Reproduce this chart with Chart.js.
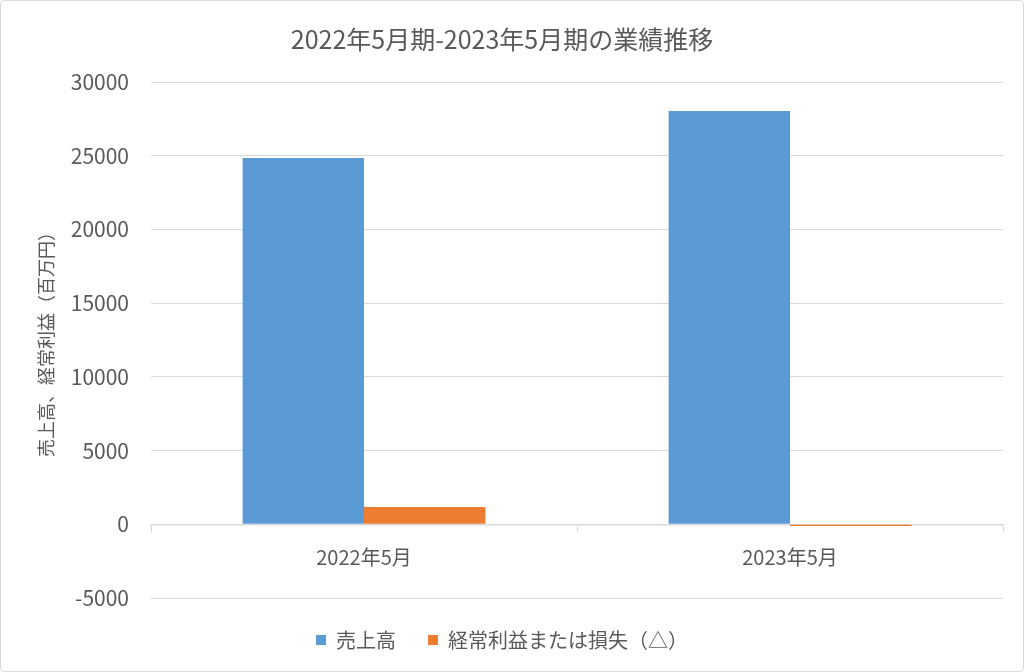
<!DOCTYPE html>
<html lang="ja">
<head>
    <meta charset="UTF-8">
    <title>業績推移</title>
    <script src="https://cdn.jsdelivr.net/npm/chart.js"></script>
    <style>
        html, body { margin: 0; padding: 0; background: #fff; }
        .frame {
            width: 1024px; height: 672px; box-sizing: border-box;
            border: 1px solid #d9d9d9; border-radius: 4px; overflow: hidden;
        }
        .frame canvas { display: block; }
    </style>
</head>
<body>
    <div class="frame">
        <canvas id="chart" width="1022" height="670"></canvas>
    </div>

    <script>
        const categories = ['2022年5月', '2023年5月'];
        const sales = [24850, 28030];
        const ordinaryProfit = [1180, -120];
        const yTicks = [-5000, 0, 5000, 10000, 15000, 20000, 25000, 30000];

        const textColor = '#595959';
        const gridColor = '#d9d9d9';
        const font = 'Noto Sans CJK JP';

        Chart.defaults.font.family = font;
        Chart.defaults.color = textColor;

        const ctx = document.getElementById('chart').getContext('2d');
        new Chart(ctx, {
            type: 'bar',
            data: {
                labels: categories,
                datasets: [
                    { label: '売上高', data: sales, backgroundColor: '#5b9bd5',
                      categoryPercentage: 0.57, barPercentage: 1.0 },
                    { label: '経常利益または損失（△）', data: ordinaryProfit, backgroundColor: '#ed7d31',
                      categoryPercentage: 0.57, barPercentage: 1.0 }
                ]
            },
            options: {
                responsive: false,
                animation: false,
                layout: { padding: { left: 0, right: 20, top: 0, bottom: 11 } },
                plugins: {
                    title: {
                        display: true,
                        text: '2022年5月期-2023年5月期の業績推移',
                        color: textColor,
                        font: { size: 25, weight: 'normal' },
                        padding: { top: 23, bottom: 28 }
                    },
                    legend: {
                        position: 'bottom',
                        labels: {
                            boxWidth: 10, boxHeight: 10, padding: 32,
                            color: textColor, font: { size: 20 }
                        }
                    },
                    tooltip: { enabled: false }
                },
                scales: {
                    x: {
                        position: { y: 0 },
                        grid: { drawOnChartArea: false, drawTicks: true, tickLength: 7, color: gridColor, offset: true },
                        border: { color: gridColor, width: 1.5 },
                        ticks: { color: textColor, font: { size: 20 }, padding: 14 }
                    },
                    y: {
                        min: -5000, max: 30000,
                        afterBuildTicks: scale => { scale.ticks = yTicks.map(v => ({ value: v })); },
                        afterFit: scale => { scale.width = 150; },
                        grid: { color: gridColor, drawTicks: false },
                        border: { display: false },
                        ticks: {
                            color: textColor, font: { size: 21 }, padding: 22,
                            callback: v => String(v)
                        },
                        title: {
                            display: true,
                            text: '売上高、経常利益（百万円）',
                            color: textColor,
                            font: { size: 18 },
                            padding: { top: 34 }
                        }
                    }
                }
            }
        });
    </script>
</body>
</html>
